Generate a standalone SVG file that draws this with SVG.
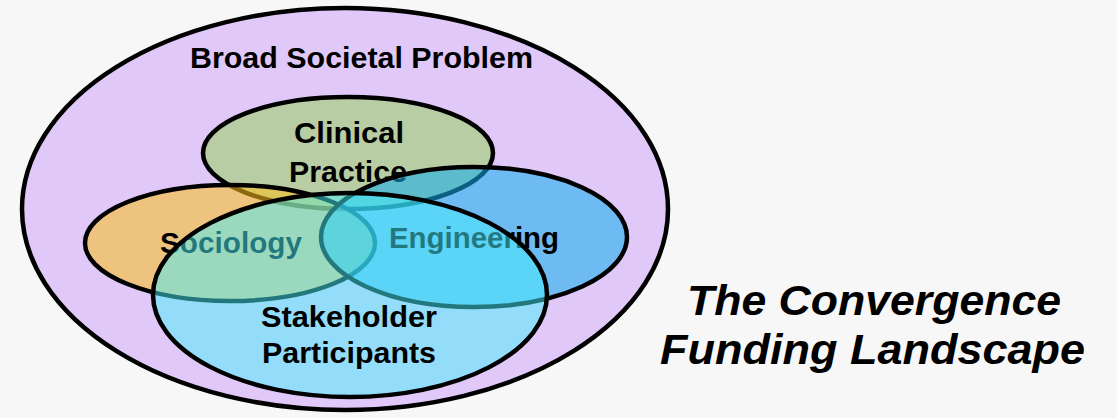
<svg xmlns="http://www.w3.org/2000/svg" width="1117" height="418" viewBox="0 0 1117 418">
  <style>
    .ring { stroke: #000; stroke-width: 4.5; }
    .lbl { font-family: "Liberation Sans", Arial, sans-serif; font-weight: bold; font-size: 30px; fill: #000; text-anchor: middle; }
    .title { font-family: "Liberation Sans", Arial, sans-serif; font-weight: bold; font-style: italic; font-size: 42px; fill: #000; }
  </style>
  <rect width="1117" height="418" fill="#f7f7f7"/>

  <!-- outer problem space -->
  <g id="broad-societal-problem">
    <ellipse class="ring" cx="345" cy="209" rx="323" ry="201" fill="#e0c8f8" stroke-width="4"/>
    <text class="lbl" x="361.5" y="68" textLength="343" lengthAdjust="spacingAndGlyphs">Broad Societal Problem</text>
  </g>

  <g id="clinical-practice">
    <ellipse class="ring" cx="348" cy="153" rx="145" ry="56" fill="#b9cda4"/>
    <text class="lbl" x="349" y="143" textLength="110" lengthAdjust="spacingAndGlyphs">Clinical</text>
    <text class="lbl" x="348" y="182" textLength="118" lengthAdjust="spacingAndGlyphs">Practice</text>
  </g>

  <!-- translucent disciplines layered over the clinical ellipse -->
  <g id="sociology">
    <ellipse class="ring" cx="230" cy="243" rx="145" ry="58" fill="#f9bf1d" fill-opacity="0.555"/>
    <text class="lbl" x="231" y="253" textLength="142" lengthAdjust="spacingAndGlyphs">Sociology</text>
  </g>

  <g id="engineering">
    <ellipse class="ring" cx="474" cy="237" rx="153" ry="70" fill="#11afed" fill-opacity="0.55"/>
    <text class="lbl" x="474" y="248" textLength="170" lengthAdjust="spacingAndGlyphs">Engineering</text>
  </g>

  <g id="stakeholder-participants">
    <ellipse cx="350" cy="295" rx="197" ry="102" fill="#46f0fc" fill-opacity="0.5"/>
    <ellipse class="ring" cx="350" cy="295" rx="197" ry="102" fill="none"/>
    <text class="lbl" x="349" y="327" textLength="176" lengthAdjust="spacingAndGlyphs">Stakeholder</text>
    <text class="lbl" x="349" y="363" textLength="174" lengthAdjust="spacingAndGlyphs">Participants</text>
  </g>

  <g id="title">
    <text class="title" x="687" y="315" textLength="374" lengthAdjust="spacingAndGlyphs">The Convergence</text>
    <text class="title" x="660" y="364" textLength="425" lengthAdjust="spacingAndGlyphs">Funding Landscape</text>
  </g>
</svg>
